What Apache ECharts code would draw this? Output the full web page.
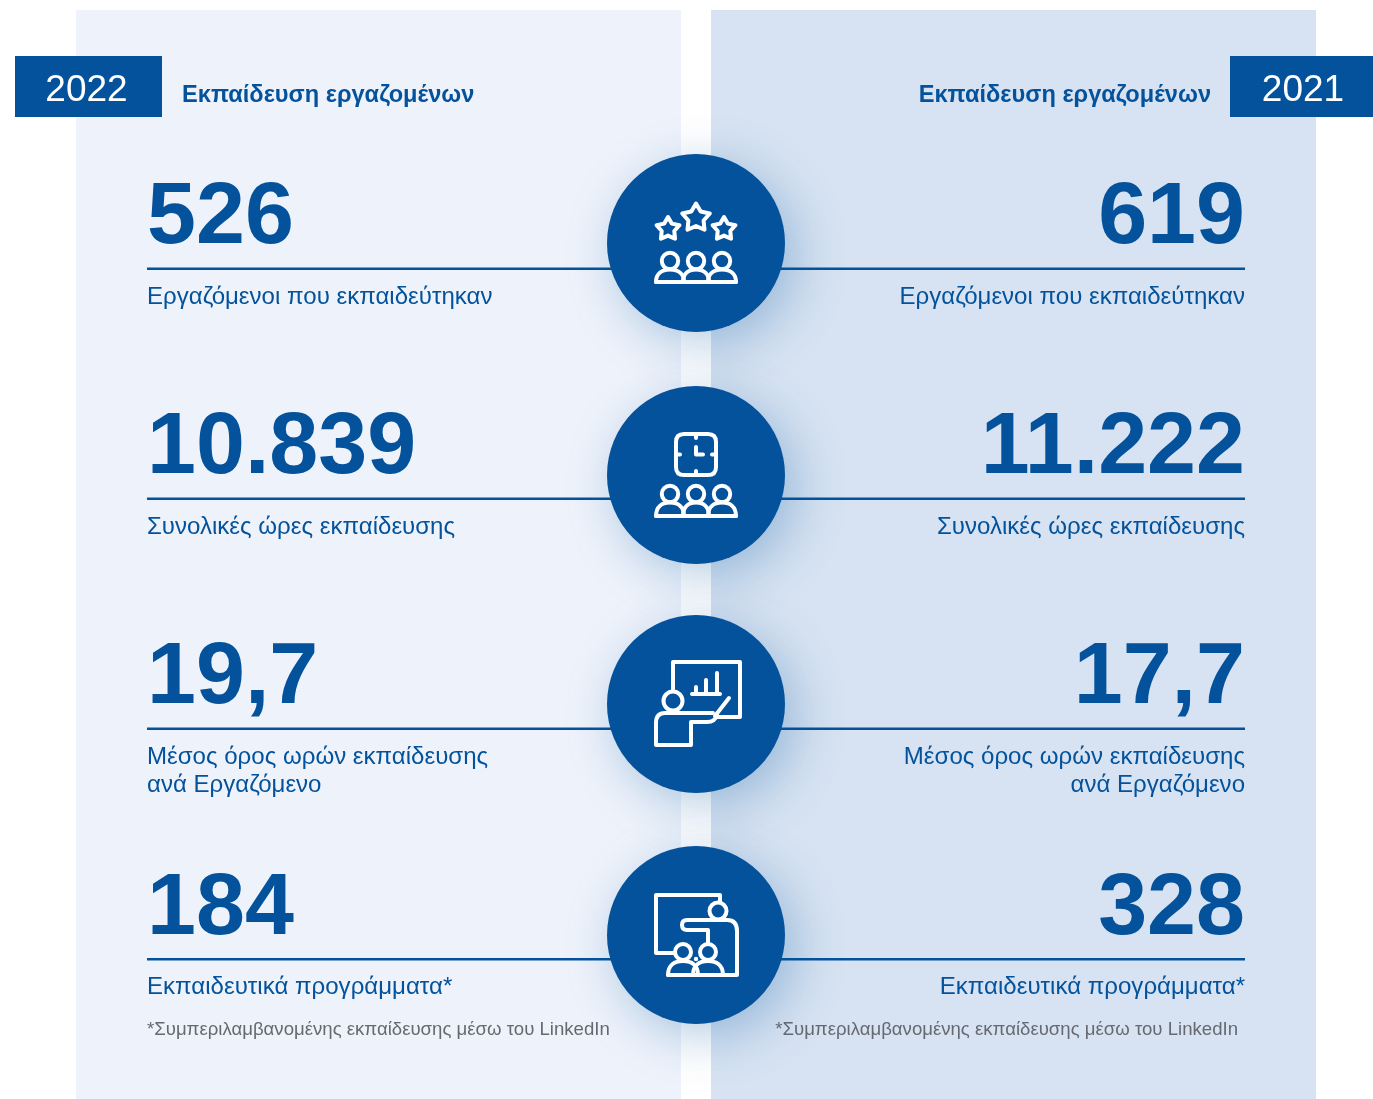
<!DOCTYPE html>
<html>
<head>
<meta charset="utf-8">
<title>Εκπαίδευση εργαζομένων</title>
<style>
  html, body { margin: 0; padding: 0; background: #fff; }
  #chart { width: 1373px; height: 1099px; }
</style>
<script src="https://cdn.jsdelivr.net/npm/echarts@6/dist/echarts.min.js"></script>
</head>
<body>
<div id="chart"></div>
<script>
const years = ['2022', '2021']
const heading = 'Εκπαίδευση εργαζομένων'
const values2022 = ['526', '10.839', '19,7', '184']
const values2021 = ['619', '11.222', '17,7', '328']
const labels = [
  'Εργαζόμενοι που εκπαιδεύτηκαν',
  'Συνολικές ώρες εκπαίδευσης',
  'Μέσος όρος ωρών εκπαίδευσης\nανά Εργαζόμενο',
  'Εκπαιδευτικά προγράμματα*'
]
const footnote = '*Συμπεριλαμβανομένης εκπαίδευσης μέσω του LinkedIn'

const BLUE = '#03529b'
const FONT = '"Liberation Sans", Arial, sans-serif'
const ICON_LINE = 4
const rowTop = [0, 230, 460, 690.5]
const circleY = [243, 475, 704, 935]

function txt(x, y, text, size, weight, color, align, lineHeight) {
  return {
    type: 'text',
    silent: true,
    z: 5,
    style: {
      x, y, text,
      fontFamily: FONT,
      fontSize: size,
      fontWeight: weight,
      fill: color,
      align,
      verticalAlign: 'middle',
      lineHeight: lineHeight || size
    }
  }
}

function rect(x, y, w, h, fill, z) {
  return { type: 'rect', silent: true, z, shape: { x, y, width: w, height: h }, style: { fill } }
}

// the graphic component has no plain svg path type, so each icon stroke gets its own shape
let shapeCount = 0
function stroke(pathData) {
  const name = 'iconStroke' + shapeCount++
  echarts.graphic.registerShape(name, echarts.graphic.extendPath(pathData))
  return {
    type: name,
    silent: true,
    z: 7,
    style: { fill: 'none', stroke: '#fff', lineWidth: ICON_LINE, lineJoin: 'round', lineCap: 'round' }
  }
}

function ring(cx, cy, r) {
  return {
    type: 'circle',
    silent: true,
    z: 7,
    shape: { cx, cy, r },
    style: { fill: 'none', stroke: '#fff', lineWidth: ICON_LINE }
  }
}

function star(cx, cy, R) {
  let d = ''
  for (let i = 0; i < 10; i++) {
    const r = i % 2 ? R * 0.55 : R
    const a = -Math.PI / 2 + i * Math.PI / 5
    d += (i ? 'L' : 'M') + (cx + r * Math.cos(a)).toFixed(2) + ' ' + (cy + r * Math.sin(a)).toFixed(2)
  }
  return stroke(d + 'Z')
}

function dome(cx, half, top, base) {
  return `M${cx - half} ${base}C${cx - half} ${top + 4} ${cx - half * 0.55} ${top} ${cx} ${top}` +
    `C${cx + half * 0.55} ${top} ${cx + half} ${top + 4} ${cx + half} ${base}`
}

function people(headY, base) {
  const out = []
  ;[-26, 0, 26].forEach(cx => {
    out.push(ring(cx, headY, 8.2))
    out.push(stroke(dome(cx, cx === 0 ? 13 : 14, headY + 8.5, base)))
  })
  out.push(stroke(`M-40 ${base}L40 ${base}`))
  return out
}

const icons = [
  () => [star(0, -25, 14.5), star(-28, -14, 12), star(28, -14, 12)].concat(people(18, 39)),
  () => [
    stroke('M-12 -41L12 -41Q20 -41 20 -33L20 -8Q20 0 12 0L-12 0Q-20 0 -20 -8L-20 -33Q-20 -41 -12 -41Z'),
    stroke('M0 -41L0 -37M0 0L0 -4M-20 -20.5L-16 -20.5M20 -20.5L16 -20.5'),
    stroke('M0 -28L0 -20.5L7 -20.5')
  ].concat(people(19, 41)),
  () => [
    stroke('M-23 -15L-23 -42L44 -42L44 13L21 13'),
    ring(-23, -3, 9.5),
    stroke('M-4 -10L24 -10M0 -10L0 -17M10 -10L10 -24M21 -10L21 -31M19 12L33 -6'),
    stroke('M17 9L-31 9Q-40 9 -40 19L-40 41L-5 41L-5 18L11 18Q19 18 21 11')
  ],
  () => [
    stroke('M24 -33L24 -40L-40 -40L-40 18L-22 18'),
    ring(22, -24, 8.5),
    stroke('M12 8L12 -5L-9 -5Q-14 -5 -14 -10Q-14 -15 -9 -15L31 -15Q41 -15 41 -4L41 40L-28 40'),
    ring(-13, 17, 8),
    ring(12, 17, 8),
    stroke(dome(-13, 15, 26, 40)),
    stroke(dome(12, 15, 26, 40)),
    { type: 'circle', silent: true, z: 7, shape: { cx: 0, cy: 24, r: 2.2 }, style: { fill: '#fff' } }
  ]
]

const graphic = []

// panels
graphic.push(rect(76, 10, 605, 1089, '#eef3fb', 1))
graphic.push(rect(711, 10, 605, 1089, '#d7e3f2', 1))

// year boxes and headings
graphic.push(rect(15, 56, 147, 61, BLUE, 4))
graphic.push(rect(1230, 56, 143, 61, BLUE, 4))
graphic.push(txt(86.5, 91, years[0], 37, 'normal', '#fff', 'center'))
graphic.push(txt(1303, 91, years[1], 37, 'normal', '#fff', 'center'))
graphic.push(txt(182, 95, heading, 23.6, 'bold', BLUE, 'left'))
graphic.push(txt(1211, 95, heading, 23.6, 'bold', BLUE, 'right'))

// rows
labels.forEach((label, i) => {
  const t = rowTop[i]
  graphic.push(txt(147, 219 + t, values2022[i], 88, 'bold', BLUE, 'left'))
  graphic.push(txt(1245, 219 + t, values2021[i], 88, 'bold', BLUE, 'right'))
  graphic.push(rect(147, 267.5 + t, 480, 2.5, BLUE, 2))
  graphic.push(rect(765, 267.5 + t, 480, 2.5, BLUE, 2))
  const lineOffset = label.indexOf('\n') >= 0 ? 14 : 0
  graphic.push(txt(147, 297 + t + lineOffset, label, 24.05, 'normal', BLUE, 'left', 28))
  graphic.push(txt(1245, 297 + t + lineOffset, label, 24.05, 'normal', BLUE, 'right', 28))
})

// footnotes
graphic.push(txt(147, 1030, footnote, 18.6, 'normal', '#666a70', 'left'))
graphic.push(txt(1238, 1030, footnote, 18.6, 'normal', '#666a70', 'right'))

// circles with their icons
circleY.forEach((cy, i) => {
  graphic.push({
    type: 'circle',
    silent: true,
    z: 6,
    shape: { cx: 696, cy, r: 89 },
    style: {
      fill: BLUE,
      shadowBlur: 52,
      shadowColor: 'rgba(3, 82, 155, 0.3)',
      shadowOffsetX: 10,
      shadowOffsetY: 12
    }
  })
  graphic.push({ type: 'group', x: 696, y: cy, z: 7, silent: true, children: icons[i]() })
})

const chart = echarts.init(document.getElementById('chart'), null, { renderer: 'canvas' })
chart.setOption({
  animation: false,
  backgroundColor: '#fff',
  graphic: { elements: graphic }
})
</script>
</body>
</html>
